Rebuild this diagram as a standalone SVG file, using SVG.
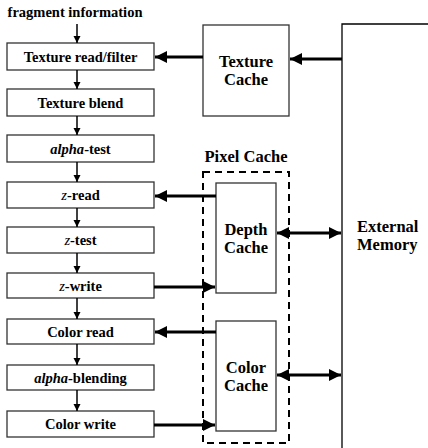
<svg xmlns="http://www.w3.org/2000/svg" width="428" height="448" viewBox="0 0 428 448">
<style>
text{font-family:"Liberation Serif","Times New Roman",serif;font-weight:bold;font-size:14.5px;fill:#000}
.c{text-anchor:middle}
.big{font-size:16.5px}
.box{fill:#fff;stroke:#333;stroke-width:1.3}
.thin{stroke:#000;stroke-width:1.5;fill:none}
.thick{stroke:#000;stroke-width:3;fill:none}
.dash{fill:none;stroke:#000;stroke-width:2;stroke-dasharray:7,5}
</style>
<defs>
<marker id="a" viewBox="0 0 10 10" refX="10" refY="5" markerWidth="5" markerHeight="5" orient="auto" markerUnits="strokeWidth"><path d="M0,0L10,5L0,10z" fill="#000"/></marker>
<marker id="b" viewBox="0 0 10 10" refX="10" refY="5" markerWidth="4" markerHeight="4" orient="auto-start-reverse" markerUnits="strokeWidth"><path d="M0,0L10,5L0,10z" fill="#000"/></marker>
</defs>
<text class="c" x="75" y="17">fragment information</text>
<g id="n1"><rect class="box" x="7" y="43" width="147" height="27"/><text class="c" x="80.5" y="61.5">Texture read/filter</text></g>
<g id="n2"><rect class="box" x="7" y="89" width="147" height="27"/><text class="c" x="80.5" y="107.5">Texture blend</text></g>
<g id="n3"><rect class="box" x="7" y="135" width="147" height="27"/><text class="c" x="80.5" y="153.5"><tspan font-style="italic">alpha</tspan>-test</text></g>
<g id="n4"><rect class="box" x="7" y="182" width="147" height="26"/><text class="c" x="80.5" y="200"><tspan font-style="italic" font-weight="normal">z</tspan>-read</text></g>
<g id="n5"><rect class="box" x="7" y="227" width="147" height="26"/><text class="c" x="80.5" y="245"><tspan font-style="italic" font-weight="normal">z</tspan>-test</text></g>
<g id="n6"><rect class="box" x="7" y="273" width="147" height="25"/><text class="c" x="80.5" y="290.5"><tspan font-style="italic" font-weight="normal">z</tspan>-write</text></g>
<g id="n7"><rect class="box" x="7" y="319" width="147" height="25"/><text class="c" x="80.5" y="336.5">Color read</text></g>
<g id="n8"><rect class="box" x="7" y="365" width="147" height="25"/><text class="c" x="80.5" y="382.5"><tspan font-style="italic">alpha</tspan>-blending</text></g>
<g id="n9"><rect class="box" x="7" y="411" width="147" height="26"/><text class="c" x="80.5" y="429">Color write</text></g>
<g id="texcache"><rect class="box" x="203" y="25" width="86" height="91"/><text class="c big" x="246" y="67">Texture</text><text class="c big" x="246" y="85">Cache</text></g>
<g id="pixelcache"><text class="c big" x="246" y="162">Pixel Cache</text><rect class="dash" x="203" y="172" width="86" height="271"/></g>
<g id="depth"><rect class="box" x="216" y="183" width="60" height="110"/><text class="c big" x="246" y="235">Depth</text><text class="c big" x="246" y="253">Cache</text></g>
<g id="color"><rect class="box" x="216" y="321" width="60" height="110"/><text class="c big" x="246" y="373">Color</text><text class="c big" x="246" y="391">Cache</text></g>
<g id="extmem"><path d="M342,448V24H428" fill="none" stroke="#000" stroke-width="1.3"/><text class="big" x="357" y="232">External</text><text class="big" x="357" y="250">Memory</text></g>
<g id="connectors">
<path class="thin" d="M77,24V43" marker-end="url(#a)"/>
<path class="thin" d="M77,70V89" marker-end="url(#a)"/>
<path class="thin" d="M77,116V135" marker-end="url(#a)"/>
<path class="thin" d="M77,162V182" marker-end="url(#a)"/>
<path class="thin" d="M77,208V227" marker-end="url(#a)"/>
<path class="thin" d="M77,253V273" marker-end="url(#a)"/>
<path class="thin" d="M77,298V319" marker-end="url(#a)"/>
<path class="thin" d="M77,344V365" marker-end="url(#a)"/>
<path class="thin" d="M77,390V411" marker-end="url(#a)"/>
<path class="thick" d="M203,57H155" marker-end="url(#b)"/>
<path class="thick" d="M342,59H290" marker-end="url(#b)"/>
<path class="thick" d="M216,196H155" marker-end="url(#b)"/>
<path class="thick" d="M154,287H215" marker-end="url(#b)"/>
<path class="thick" d="M216,332H155" marker-end="url(#b)"/>
<path class="thick" d="M154,425H215" marker-end="url(#b)"/>
<path class="thick" d="M277,233H341" marker-start="url(#b)" marker-end="url(#b)"/>
<path class="thick" d="M277,375H341" marker-start="url(#b)" marker-end="url(#b)"/>
</g>
</svg>
